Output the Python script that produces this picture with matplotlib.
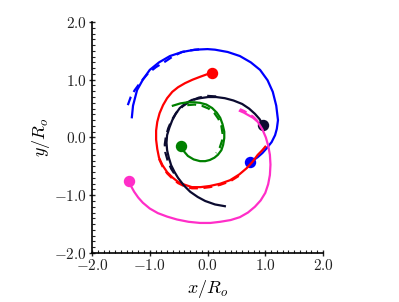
import matplotlib
matplotlib.use("Agg")
import matplotlib.pyplot as plt
from matplotlib.ticker import MultipleLocator, FuncFormatter

plt.rcParams['mathtext.fontset'] = 'cm'
plt.rcParams['font.family'] = ['DejaVu Serif']

# Trajectories (x, y) in units of R_o
blue_x = [-1.31, -1.29, -1.22, -1.12, -1.00, -0.84, -0.65, -0.44, -0.22, 0.00, 0.13, 0.35, 0.56, 0.75, 0.91,
          1.04, 1.13, 1.19, 1.22, 1.20, 1.17, 1.11, 1.03, 0.95, 0.87, 0.80, 0.74]
blue_y = [0.35, 0.55, 0.82, 1.00, 1.17, 1.30, 1.41, 1.48, 1.52, 1.53, 1.52, 1.48, 1.41, 1.30, 1.17,
          0.99, 0.79, 0.55, 0.30, 0.15, 0.04, -0.08, -0.18, -0.27, -0.34, -0.39, -0.42]
blue_dx = [-1.38, -1.33, -1.26, -1.15, -1.03, -0.89, -0.74, -0.59, -0.44, -0.28, -0.10]
blue_dy = [0.56, 0.70, 0.82, 0.97, 1.11, 1.22, 1.31, 1.41, 1.48, 1.51, 1.53]

red_x = [0.08, -0.02, -0.13, -0.26, -0.39, -0.51, -0.61, -0.70, -0.77, -0.83, -0.87, -0.89, -0.89, -0.87,
         -0.84, -0.78, -0.70, -0.61, -0.51, -0.39, -0.27, -0.12, 0.04, 0.22, 0.39, 0.55, 0.68, 0.78, 0.87,
         0.94, 1.00]
red_y = [1.12, 1.09, 1.05, 1.00, 0.94, 0.87, 0.79, 0.68, 0.56, 0.42, 0.27, 0.12, -0.04, -0.20,
         -0.35, -0.48, -0.60, -0.69, -0.77, -0.82, -0.86, -0.86, -0.84, -0.80, -0.74, -0.64, -0.53, -0.42,
         -0.30, -0.23, -0.16]
red_dx = [-0.84, -0.78, -0.70, -0.61, -0.51, -0.39, -0.27, -0.12, 0.04, 0.22, 0.39, 0.55]
red_dy = [-0.37, -0.50, -0.62, -0.71, -0.79, -0.85, -0.88, -0.88, -0.86, -0.82, -0.76, -0.66]

navy_x = [0.96, 0.90, 0.82, 0.72, 0.60, 0.45, 0.30, 0.15, 0.01, -0.13, -0.27, -0.38, -0.48, -0.55, -0.61,
          -0.66, -0.70, -0.71, -0.70, -0.67, -0.63, -0.57, -0.51, -0.41, -0.30, -0.17, -0.04, 0.13, 0.30]
navy_y = [0.22, 0.32, 0.41, 0.50, 0.58, 0.64, 0.68, 0.70, 0.70, 0.68, 0.65, 0.59, 0.51, 0.41, 0.30,
          0.17, 0.04, -0.09, -0.22, -0.35, -0.48, -0.60, -0.70, -0.83, -0.94, -1.03, -1.10, -1.16, -1.19]
navy_dx = [0.15, 0.00, -0.15, -0.30, -0.43, -0.54, -0.62, -0.68, -0.72, -0.74, -0.73, -0.69, -0.63, -0.56]
navy_dy = [0.71, 0.72, 0.69, 0.63, 0.54, 0.43, 0.30, 0.16, 0.02, -0.12, -0.26, -0.40, -0.54, -0.65]

green_x = [-0.46, -0.40, -0.34, -0.24, -0.13, -0.04, 0.04, 0.12, 0.18, 0.24, 0.27, 0.29, 0.29, 0.26, 0.22,
           0.16, 0.08, -0.02, -0.13, -0.24, -0.34, -0.47, -0.60]
green_y = [-0.15, -0.25, -0.32, -0.38, -0.41, -0.41, -0.39, -0.35, -0.30, -0.22, -0.13, -0.01, 0.10, 0.23,
           0.34, 0.43, 0.51, 0.57, 0.60, 0.61, 0.61, 0.59, 0.55]
green_dx = [-0.35, -0.22, -0.10, 0.02, 0.12, 0.19, 0.24, 0.26, 0.25, 0.21, 0.15]
green_dy = [0.56, 0.57, 0.55, 0.50, 0.42, 0.32, 0.20, 0.07, -0.06, -0.18, -0.27]

pink_x = [-1.36, -1.32, -1.27, -1.20, -1.12, -1.00, -0.86, -0.70, -0.53, -0.33, -0.13, 0.05, 0.22, 0.40,
          0.56, 0.70, 0.82, 0.92, 1.00, 1.05, 1.08, 1.09, 1.08, 1.05, 1.01, 0.95, 0.87, 0.79, 0.70, 0.63, 0.56]
pink_y = [-0.75, -0.85, -0.94, -1.04, -1.13, -1.23, -1.31, -1.37, -1.42, -1.46, -1.48, -1.48, -1.46, -1.43,
          -1.38, -1.30, -1.20, -1.09, -0.96, -0.81, -0.65, -0.47, -0.30, -0.14, 0.00, 0.14, 0.27, 0.34, 0.39,
          0.43, 0.46]
pink_dx = [0.87, 0.79, 0.70, 0.63, 0.56]
pink_dy = [0.28, 0.36, 0.42, 0.46, 0.49]

tick_vals = [-2.0, -1.0, 0.0, 1.0, 2.0]

fig = plt.figure(figsize=(3.99, 3.02), dpi=100)
ax = fig.add_axes([0.2306, 0.1623, 0.579, 0.765])

lw = 1.6
ms = 7.2
series = [
    (blue_x, blue_y, blue_dx, blue_dy, '#0000ff', -1),
    (red_x, red_y, red_dx, red_dy, '#ff0000', 0),
    (navy_x, navy_y, navy_dx, navy_dy, '#0b0b30', 0),
    (green_x, green_y, green_dx, green_dy, '#008000', 0),
    (pink_x, pink_y, pink_dx, pink_dy, '#ff2ec8', 0),
]
for xs, ys, dxs, dys, c, idx in series:
    ax.plot(dxs, dys, color=c, lw=lw, ls=(0, (4, 2.5)))
    ax.plot(xs, ys, color=c, lw=lw)
    ax.plot([xs[idx]], [ys[idx]], 'o', color=c, ms=ms)

ax.set_xlim(-2, 2)
ax.set_ylim(-2, 2)
ax.set_aspect('equal')
for s in ['top', 'right']:
    ax.spines[s].set_visible(False)
ax.spines['left'].set_linewidth(1.2)
ax.spines['bottom'].set_linewidth(1.2)

ax.set_xticks(tick_vals)
ax.set_yticks(tick_vals)
ax.xaxis.set_minor_locator(MultipleLocator(0.1))
ax.yaxis.set_minor_locator(MultipleLocator(0.1))
fmt = FuncFormatter(lambda v, p: r'$%.1f$' % v)
ax.xaxis.set_major_formatter(fmt)
ax.yaxis.set_major_formatter(fmt)
ax.tick_params(which='major', direction='inout', length=5, width=1, labelsize=11, pad=1, colors='#222222')
ax.tick_params(which='minor', direction='in', length=2.5, width=0.8, colors='#222222')

ax.set_xlabel(r'$x/R_o$', fontsize=13, labelpad=4)
ax.set_ylabel(r'$y/R_o$', fontsize=13, labelpad=2)

fig.savefig('out.png', dpi=100)
